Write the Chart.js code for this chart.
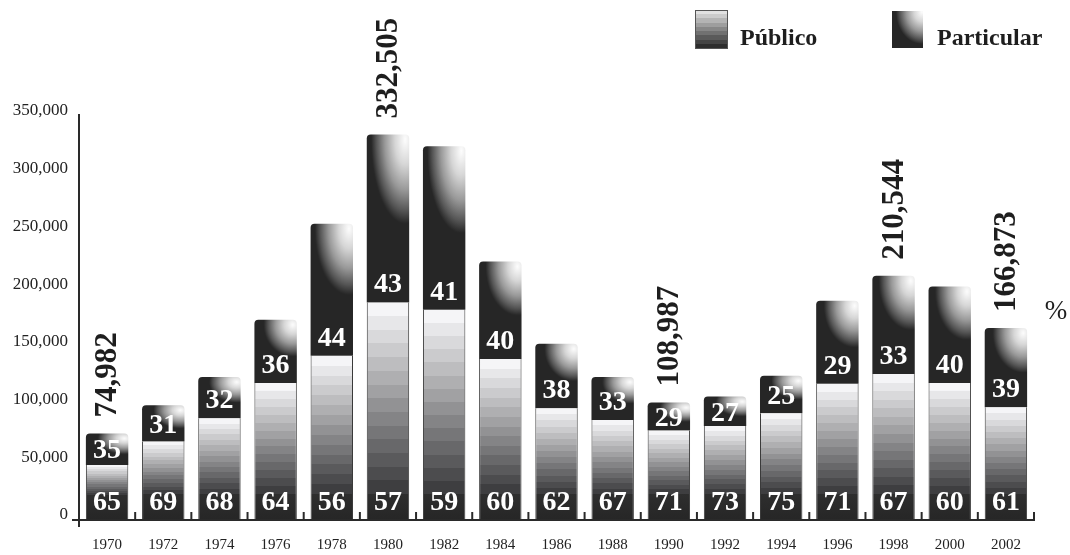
<!DOCTYPE html>
<html>
<head>
<meta charset="utf-8">
<script src="https://cdn.jsdelivr.net/npm/chart.js@4/dist/chart.umd.min.js"></script>
<style>
    body{ margin:0; background:#fff; }
    #grafico{ display:block; }
</style>
</head>
<body>
<canvas id="grafico" width="1070" height="555"></canvas>
<script>

// DATOS
const anios = ['1970','1972','1974','1976','1978','1980','1982','1984','1986',
               '1988','1990','1992','1994','1996','1998','2000','2002'];

const publico    = [47700, 67900, 88200, 118600, 142200, 188500, 182100, 139400, 96900,
                    86700, 77500, 81500, 92500, 118000, 126400, 118600, 97700];
const particular = [27300, 31600, 35600, 54900, 114500, 145400, 141700, 84600, 55700,
                    37100, 24200, 25400, 32400, 71900, 85200, 83700, 68600];

const pctPublico    = [65, 69, 68, 64, 56, 57, 59, 60, 62, 67, 71, 73, 75, 71, 67, 60, 61];
const pctParticular = [35, 31, 32, 36, 44, 43, 41, 40, 38, 33, 29, 27, 25, 29, 33, 40, 39];

// totales escritos encima de algunas barras
const totales = [74982, null, null, null, null, 332505, null, null, null,
                 null, 108987, null, null, null, 210544, null, 166873];

const ticksY = [0, 50000, 100000, 150000, 200000, 250000, 300000, 350000];

const FUENTE = '"Liberation Serif", "DejaVu Serif", serif';
const OSCURO = '#262626';
const ANCHO_CAT = 0.755;

Chart.defaults.font.family = FUENTE;
Chart.defaults.color = '#222';

// GEOMETRIA DE UNA BARRA (desde las escalas)
function geometria(chart, i, desde, hasta){
    let x = chart.scales.x;
    let y = chart.scales.y;
    let ancho = x.width / anios.length * ANCHO_CAT;
    return {
        izq: x.getPixelForValue(i) - ancho/2,
        ancho: ancho,
        arriba: y.getPixelForValue(hasta),
        abajo: y.getPixelForValue(desde)
    };
}

// RELLENO PUBLICO: degradado en franjas
function rellenoPublico(c){
    if(c.type !== 'data' || !c.chart.chartArea) return '#999';
    let i = c.dataIndex;
    let g = geometria(c.chart, i, 0, publico[i]);
    let alto = g.abajo - g.arriba;
    let grad = c.chart.ctx.createLinearGradient(0, g.arriba, 0, g.abajo);
    let oscuro = Math.min(26, alto * 0.45);
    let fin = (alto - oscuro) / alto;
    let n = 14;
    for(let k = 0; k < n; k++){
        let t = k / (n - 1);
        let v = Math.round(245 - (245 - 62) * t);
        let col = `rgb(${v},${v},${v + 2})`;
        grad.addColorStop(fin * k / n, col);
        grad.addColorStop(fin * (k + 1) / n, col);
    }
    grad.addColorStop(fin, '#2e2e2e');
    grad.addColorStop(1, OSCURO);
    return grad;
}

// RELLENO PARTICULAR: negro con brillo arriba a la derecha
function pintarBrillo(o, cx, cy, rx, ry){
    o.save();
    o.translate(cx, cy);
    o.scale(1, ry / rx);
    let r = o.createRadialGradient(0, 0, 0, 0, 0, rx);
    r.addColorStop(0, '#fdfdfd');
    r.addColorStop(0.3, '#d6d6d6');
    r.addColorStop(0.6, '#999');
    r.addColorStop(0.85, '#555');
    r.addColorStop(1, OSCURO);
    o.fillStyle = r;
    o.fillRect(-rx - 2, -rx - 2, 2*rx + 4, 2*rx + 4);
    o.restore();
}

function rellenoParticular(c){
    if(c.type !== 'data' || !c.chart.chartArea) return OSCURO;
    let i = c.dataIndex;
    let g = geometria(c.chart, i, publico[i], publico[i] + particular[i]);
    let h = g.abajo - g.arriba;
    let lienzo = document.createElement('canvas');
    lienzo.width = Math.ceil(g.ancho) + 4;
    lienzo.height = Math.ceil(h) + 4;
    let o = lienzo.getContext('2d');
    o.fillStyle = OSCURO;
    o.fillRect(0, 0, lienzo.width, lienzo.height);
    let rx = Math.min(34, 24 + 0.08 * h);
    let ry = 0.5 * h;
    pintarBrillo(o, g.ancho - 3, 6, rx, ry);
    let patron = c.chart.ctx.createPattern(lienzo, 'no-repeat');
    patron.setTransform(new DOMMatrix().translate(g.izq - 1, g.arriba - 1));
    return patron;
}

// ETIQUETAS, EJES, LEYENDA
const decorado = {
    id: 'decorado',
    afterDatasetsDraw(chart){
        let ctx = chart.ctx;
        let area = chart.chartArea;
        let x = chart.scales.x;
        let y = chart.scales.y;
        let base = y.getPixelForValue(0);

        // ejes
        ctx.save();
        ctx.strokeStyle = '#2a2a2a';
        ctx.lineWidth = 2;
        ctx.beginPath();
        ctx.moveTo(area.left, area.top - 2);
        ctx.lineTo(area.left, base + 7);
        ctx.moveTo(area.left - 7, base);
        ctx.lineTo(area.right + 1, base);
        for(let i = 1; i <= anios.length; i++){
            let px = i < anios.length
                ? (x.getPixelForValue(i - 1) + x.getPixelForValue(i)) / 2
                : area.right;
            ctx.moveTo(px, base);
            ctx.lineTo(px, base - 8);
        }
        ctx.stroke();

        // porcentajes
        ctx.fillStyle = '#fff';
        ctx.font = 'bold 28px ' + FUENTE;
        ctx.textAlign = 'center';
        ctx.textBaseline = 'middle';
        let barrasPub = chart.getDatasetMeta(0).data;
        let barrasPar = chart.getDatasetMeta(1).data;
        anios.forEach((a, i) => {
            let bp = barrasPub[i];
            let bq = barrasPar[i];
            ctx.fillText(pctPublico[i], bp.x, base - 17);
            let yq = Math.max(bq.base - 17.5, (bq.y + bq.base) / 2 + 2);
            ctx.fillText(pctParticular[i], bq.x, yq);
        });

        // totales verticales
        ctx.fillStyle = '#1e1e1e';
        ctx.font = 'bold 31px ' + FUENTE;
        ctx.textAlign = 'left';
        anios.forEach((a, i) => {
            if(totales[i] == null) return;
            let bq = barrasPar[i];
            ctx.save();
            ctx.translate(bq.x, bq.y - 16);
            ctx.rotate(-Math.PI / 2);
            ctx.fillText(totales[i].toLocaleString('en-US'), 0, 1);
            ctx.restore();
        });
        ctx.restore();
    },
    afterDraw(chart){
        let ctx = chart.ctx;
        ctx.save();

        // simbolo %
        ctx.fillStyle = '#1e1e1e';
        ctx.font = '27px ' + FUENTE;
        ctx.textAlign = 'center';
        ctx.textBaseline = 'middle';
        ctx.fillText('%', 1056, 312);

        // leyenda: Publico
        let grad = ctx.createLinearGradient(0, 10, 0, 48);
        let n = 9;
        for(let k = 0; k < n; k++){
            let v = Math.round(225 - (225 - 45) * k / (n - 1));
            grad.addColorStop(k / n, `rgb(${v},${v},${v})`);
            grad.addColorStop((k + 1) / n, `rgb(${v},${v},${v})`);
        }
        ctx.fillStyle = grad;
        ctx.fillRect(696, 11, 31, 37);
        ctx.strokeStyle = '#555';
        ctx.lineWidth = 1;
        ctx.strokeRect(695.5, 10.5, 32, 38);

        // leyenda: Particular
        ctx.fillStyle = OSCURO;
        ctx.fillRect(892, 11, 31, 37);
        ctx.save();
        ctx.beginPath();
        ctx.rect(892, 11, 31, 37);
        ctx.clip();
        pintarBrillo(ctx, 922, 12, 26, 32);
        ctx.restore();

        ctx.fillStyle = '#1e1e1e';
        ctx.font = 'bold 24px ' + FUENTE;
        ctx.textAlign = 'left';
        ctx.textBaseline = 'alphabetic';
        ctx.fillText('Público', 740, 45);
        ctx.fillText('Particular', 937, 45);
        ctx.restore();
    }
};

new Chart(document.getElementById('grafico'), {
    type: 'bar',
    data: {
        labels: anios,
        datasets: [
            {
                label: 'Público',
                data: publico,
                backgroundColor: rellenoPublico,
                borderColor: '#3a3a3a',
                borderWidth: {left: 1, right: 1, top: 0, bottom: 0},
                borderSkipped: false
            },
            {
                label: 'Particular',
                data: particular,
                backgroundColor: rellenoParticular,
                borderWidth: 0,
                borderRadius: {topLeft: 4, topRight: 4, bottomLeft: 0, bottomRight: 0},
                borderSkipped: false
            }
        ]
    },
    options: {
        responsive: false,
        animation: false,
        devicePixelRatio: 1,
        categoryPercentage: ANCHO_CAT,
        barPercentage: 1,
        layout: {
            padding: {top: 116, right: 36, bottom: 0, left: 0}
        },
        plugins: {
            legend: { display: false },
            tooltip: { enabled: false }
        },
        scales: {
            x: {
                stacked: true,
                grid: { display: false, drawTicks: false },
                border: { display: false },
                ticks: {
                    font: { size: 15 },
                    color: '#222',
                    padding: 16,
                    maxRotation: 0,
                    autoSkip: false
                },
                afterFit(scale){ scale.height = 35; }
            },
            y: {
                stacked: true,
                min: 0,
                max: ticksY[ticksY.length - 1],
                grid: { display: false, drawTicks: false },
                border: { display: false },
                afterBuildTicks(scale){
                    scale.ticks = ticksY.map(v => ({value: v}));
                },
                ticks: {
                    font: { size: 17 },
                    color: '#222',
                    padding: 11,
                    labelOffset: -5,
                    callback: v => Number(v).toLocaleString('en-US')
                },
                afterFit(scale){ scale.width = 79; }
            }
        }
    },
    plugins: [decorado]
});

</script>
</body>
</html>
